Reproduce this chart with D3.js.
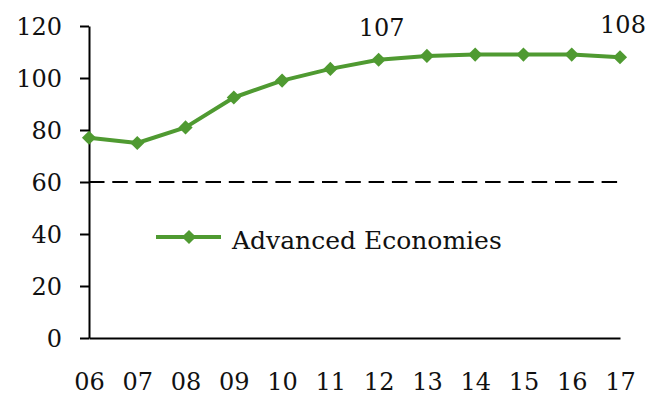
<!DOCTYPE html>
<html>
<head>
<meta charset="utf-8">
<script src="https://cdn.jsdelivr.net/npm/d3@7"></script>
<style>
  html, body { margin: 0; padding: 0; background: #fff; }
  svg { display: block; }
  text { font-family: "DejaVu Serif", "Liberation Serif", serif; fill: #111; }
</style>
</head>
<body>
<svg id="chart" width="653" height="395"></svg>
<script>
// Years shown on the horizontal axis
const years = ["06", "07", "08", "09", "10", "11", "12", "13", "14", "15", "16", "17"];
// Advanced Economies series
const advanced = [77, 75, 81, 92.5, 99, 103.5, 107, 108.5, 109, 109, 109, 108];
// Y axis ticks and reference level
const yTicks = [0, 20, 40, 60, 80, 100, 120];
const refLevel = 60;
// Points that carry a value label
const labelled = ["12", "17"];
const seriesName = "Advanced Economies";

const green = "#4f9a31";
const svg = d3.select("#chart");

const x = d3.scalePoint().domain(years).range([89, 620]).padding(0);
const y = d3.scaleLinear().domain([0, 120]).range([338, 26]);

// Y axis
const yAxis = svg.append("g")
  .attr("transform", `translate(${x.range()[0]},0)`)
  .call(d3.axisLeft(y).tickValues(yTicks).tickSize(9).tickSizeOuter(0).tickPadding(18).tickFormat(d3.format("d")));
yAxis.select(".domain").attr("stroke", "#000").attr("stroke-width", 2);
yAxis.selectAll(".tick line").attr("stroke", "#000").attr("stroke-width", 2);
yAxis.selectAll(".tick text").attr("font-size", 24).attr("font-family", null).attr("dy", "0.36em");

// X axis
const xAxis = svg.append("g")
  .attr("transform", `translate(0,${y(0)})`)
  .call(d3.axisBottom(x).tickSize(0).tickSizeOuter(0));
xAxis.select(".domain").attr("stroke", "#000").attr("stroke-width", 2);
xAxis.selectAll(".tick text").attr("font-size", 24).attr("font-family", null)
  .attr("dy", null).attr("y", 52);

// Dashed reference line
svg.append("line")
  .attr("x1", x.range()[0]).attr("x2", x.range()[1])
  .attr("y1", y(refLevel)).attr("y2", y(refLevel))
  .attr("stroke", "#000").attr("stroke-width", 2)
  .attr("stroke-dasharray", "15.5 7.8");

// Series line
const data = years.map((yr, i) => ({ yr, v: advanced[i] }));
svg.append("path")
  .datum(data)
  .attr("fill", "none")
  .attr("stroke", green)
  .attr("stroke-width", 4)
  .attr("stroke-linejoin", "round")
  .attr("d", d3.line().x(d => x(d.yr)).y(d => y(d.v)));

// Diamond markers
const diamond = d3.symbol().type(d3.symbolSquare).size(100);
svg.append("g").selectAll("path")
  .data(data)
  .join("path")
  .attr("d", diamond)
  .attr("fill", green)
  .attr("transform", d => `translate(${x(d.yr)},${y(d.v)}) rotate(45)`);

// Value labels
svg.append("g").selectAll("text")
  .data(data.filter(d => labelled.includes(d.yr)))
  .join("text")
  .attr("x", d => x(d.yr) + 3)
  .attr("y", d => y(d.v) - 24)
  .attr("text-anchor", "middle")
  .attr("font-size", 24)
  .text(d => d3.format("d")(d.v));

// Legend
const legend = svg.append("g").attr("transform", "translate(156,237)");
legend.append("line").attr("x1", 0).attr("x2", 65).attr("y1", 0).attr("y2", 0)
  .attr("stroke", green).attr("stroke-width", 4);
legend.append("path").attr("d", diamond).attr("fill", green)
  .attr("transform", "translate(33,0) rotate(45)");
legend.append("text").attr("x", 76).attr("y", 12).attr("font-size", 25).text(seriesName);
</script>
</body>
</html>
